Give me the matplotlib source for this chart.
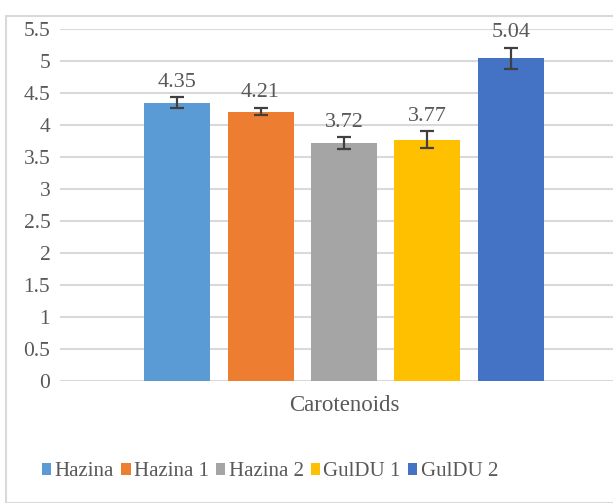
import matplotlib
matplotlib.use("Agg")
import matplotlib.pyplot as plt
from matplotlib.patches import Rectangle, Patch

names = ["Hazina", "Hazina 1", "Hazina 2", "GulDU 1", "GulDU 2"]
values = [4.35, 4.21, 3.72, 3.77, 5.04]
errors = [0.08, 0.06, 0.09, 0.13, 0.17]
colors = ["#5B9BD5", "#ED7D31", "#A5A5A5", "#FFC000", "#4472C4"]
category = "Carotenoids"
yticks = [0, 0.5, 1, 1.5, 2, 2.5, 3, 3.5, 4, 4.5, 5, 5.5]

plt.rcParams['font.family'] = ['Liberation Serif', 'DejaVu Serif']
txt = "#595959"

W, H = 613, 503
fig = plt.figure(figsize=(W/100, H/100), dpi=100)
fig.patches.append(Rectangle((6/W, 0), 1, 1 - 16/H, transform=fig.transFigure,
                             fill=False, edgecolor="#D9D9D9", linewidth=1.5))

ax = fig.add_axes([60/W, 1 - 381/H, (W-60)/W, (381-29)/H])
x = list(range(len(values)))
ax.bar(x, values, width=66/83.5, color=colors, zorder=3)
ax.errorbar(x, values, yerr=errors, fmt='none', ecolor="#404040",
            elinewidth=1.6, capsize=5, capthick=1.6, zorder=4)
for xi, v, e in zip(x, values, errors):
    ax.annotate(f"{v:.2f}", (xi, v + e), xytext=(0, 4), textcoords="offset points",
                ha="center", va="bottom", fontsize=16, color=txt)

ax.set_xlim((60 - 177) / 83.5, (W - 177) / 83.5)
ax.set_ylim(0, 5.5)
ax.set_yticks(yticks)
ax.set_yticklabels([f"{t:g}" for t in yticks])
ax.yaxis.grid(True, color="#D9D9D9", linewidth=1.5, zorder=0)
ax.set_axisbelow(True)
for s in ax.spines.values():
    s.set_visible(False)
ax.tick_params(axis='y', length=0, pad=7, labelsize=15.5, labelcolor=txt)
ax.tick_params(axis='x', length=0)
ax.set_xticks([2])
ax.set_xticklabels([category], fontsize=16.5, color=txt)
ax.tick_params(axis='x', pad=10)

handles = [Patch(facecolor=c, edgecolor='none') for c in colors]
fig.legend(handles, names, loc="center", bbox_to_anchor=(270/W, 1 - 472/H),
           ncol=5, frameon=False, fontsize=15, handlelength=0.45, handleheight=0.45,
           handletextpad=0.15, columnspacing=0.35, labelcolor=txt)

fig.savefig("out.png", dpi=100)
